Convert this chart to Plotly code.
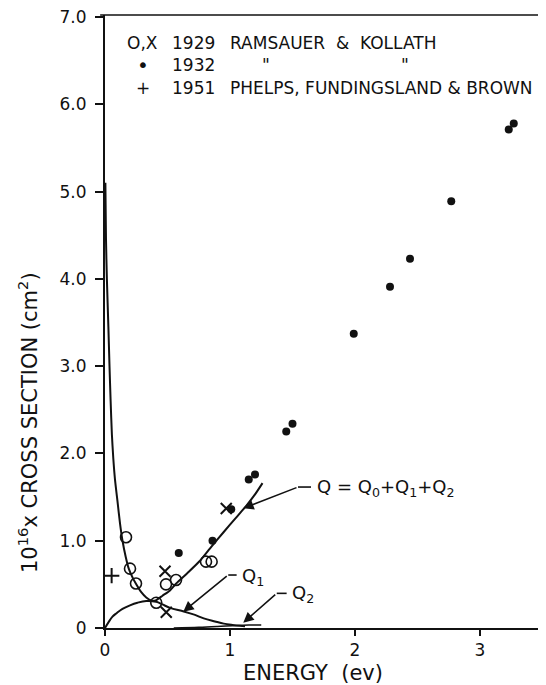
import plotly.graph_objects as go

# ---- data ----
circ_x = [0.168, 0.20, 0.248, 0.41, 0.488, 0.568, 0.808, 0.853]
circ_y = [1.04, 0.68, 0.51, 0.29, 0.50, 0.55, 0.76, 0.76]

xmark_x = [0.48, 0.49, 0.97]
xmark_y = [0.65, 0.18, 1.37]

dot_x = [0.59, 0.86, 1.01, 1.15, 1.20, 1.45, 1.50, 1.99, 2.28, 2.44, 2.77, 3.23, 3.27]
dot_y = [0.86, 1.00, 1.36, 1.70, 1.76, 2.25, 2.34, 3.37, 3.91, 4.23, 4.89, 5.71, 5.78]

plus_x = [0.053]
plus_y = [0.60]

q_x = [0.003, 0.008, 0.015, 0.027, 0.036, 0.045, 0.055, 0.066, 0.08, 0.10, 0.12, 0.14,
       0.165, 0.19, 0.22, 0.25, 0.29, 0.33, 0.37, 0.41, 0.46, 0.52, 0.57, 0.66, 0.76,
       0.85, 0.95, 1.04, 1.13, 1.20, 1.26]
q_y = [5.1, 4.45, 4.0, 3.45, 3.0, 2.6, 2.22, 1.95, 1.70, 1.45, 1.20, 1.00,
       0.82, 0.68, 0.58, 0.50, 0.41, 0.35, 0.315, 0.32, 0.37, 0.43, 0.51, 0.63, 0.77,
       0.93, 1.10, 1.25, 1.40, 1.53, 1.66]

q1_x = [0.0, 0.03, 0.06, 0.093, 0.14, 0.20, 0.26, 0.33, 0.41, 0.46, 0.52, 0.63, 0.72,
        0.79, 0.88, 0.95, 1.02, 1.08, 1.12]
q1_y = [0.0, 0.07, 0.13, 0.17, 0.22, 0.26, 0.29, 0.31, 0.30, 0.27, 0.23, 0.19, 0.15,
        0.11, 0.075, 0.05, 0.035, 0.025, 0.02]

q2_x = [0.55, 0.75, 0.90, 1.05, 1.15, 1.25]
q2_y = [0.0, 0.008, 0.018, 0.03, 0.035, 0.035]

x_ticks = [0, 1, 2, 3]
x_ticktext = ["0", "1", "2", "3"]
y_ticks = [0, 1, 2, 3, 4, 5, 6, 7]
y_ticktext = ["0", "1.0", "2.0", "3.0", "4.0", "5.0", "6.0", "7.0"]

FONT = "DejaVu Sans"
BLACK = "#111"

fig = go.Figure()
fig.add_trace(go.Scatter(x=q_x, y=q_y, mode="lines", line=dict(color=BLACK, width=2, shape="spline", smoothing=0.6), hoverinfo="skip"))
fig.add_trace(go.Scatter(x=q1_x, y=q1_y, mode="lines", line=dict(color=BLACK, width=2, shape="spline"), hoverinfo="skip"))
fig.add_trace(go.Scatter(x=q2_x, y=q2_y, mode="lines", line=dict(color=BLACK, width=1.5, shape="spline"), hoverinfo="skip"))
fig.add_trace(go.Scatter(x=circ_x, y=circ_y, mode="markers",
                         marker=dict(symbol="circle-open", size=11, color=BLACK, line=dict(width=1.6))))
fig.add_trace(go.Scatter(x=xmark_x, y=xmark_y, mode="markers",
                         marker=dict(symbol="x-thin-open", size=11, color=BLACK, line=dict(width=2))))
fig.add_trace(go.Scatter(x=dot_x, y=dot_y, mode="markers",
                         marker=dict(symbol="circle", size=8, color=BLACK)))
fig.add_trace(go.Scatter(x=plus_x, y=plus_y, mode="markers",
                         marker=dict(symbol="cross-thin-open", size=11, color=BLACK, line=dict(width=2))))

ann = []
def txt(x, y, s, size=17, xanchor="left", **kw):
    ann.append(dict(x=x, y=y, xref="x", yref="y", text=s, showarrow=False,
                    xanchor=xanchor, yanchor="middle", font=dict(family=FONT, size=size, color=BLACK), **kw))

# legend-like header text
txt(0.16, 6.70, "O,X")
txt(0.52, 6.70, "1929")
txt(0.984, 6.70, "RAMSAUER  &  KOLLATH")
txt(0.304, 6.45, "•", size=20, xanchor="center")
txt(0.52, 6.45, "1932")
txt(1.288, 6.45, "\"", xanchor="center")
txt(2.40, 6.45, "\"", xanchor="center")
txt(0.304, 6.185, "+", xanchor="center")
txt(0.52, 6.185, "1951")
txt(0.984, 6.185, "PHELPS, FUNDINGSLAND & BROWN")

# curve labels
txt(1.68, 1.60, "Q = Q<sub>0</sub>+Q<sub>1</sub>+Q<sub>2</sub>", size=18)
txt(1.08, 0.59, "Q<sub>1</sub>", size=18)
txt(1.48, 0.39, "Q<sub>2</sub>", size=18)

# arrows (tail -> head)
arrows = [((1.544, 1.615), (1.106, 1.371)),
          ((0.986, 0.607), (0.626, 0.187)),
          ((1.374, 0.397), (1.106, 0.061))]
for (tx, ty), (hx, hy) in arrows:
    ann.append(dict(x=hx, y=hy, ax=tx, ay=ty, xref="x", yref="y", axref="x", ayref="y",
                    text="", showarrow=True, arrowhead=2, arrowsize=1.3, arrowwidth=1.6,
                    arrowcolor=BLACK))

# axis titles
ann.append(dict(x=(313 - 105) / 441, y=-(673 - 628) / 613, xref="paper", yref="paper",
                text="ENERGY  (ev)", showarrow=False, xanchor="center", yanchor="middle",
                font=dict(family=FONT, size=21, color=BLACK)))
ann.append(dict(x=-(105 - 28) / 441, y=(628 - 423) / 613, xref="paper", yref="paper",
                text="10<sup>16</sup>x CROSS SECTION (cm<sup>2</sup>)", showarrow=False,
                textangle=-90, xanchor="center", yanchor="middle",
                font=dict(family=FONT, size=21, color=BLACK)))

shapes = [
    dict(type="line", xref="paper", yref="paper", x0=-0.011, x1=1.0, y0=1.0, y1=1.0,
         line=dict(color=BLACK, width=1.5)),
    dict(type="line", xref="x", yref="y", x0=1.544, x1=1.648, y0=1.615, y1=1.615,
         line=dict(color=BLACK, width=1.6)),
    dict(type="line", xref="x", yref="y", x0=0.986, x1=1.053, y0=0.607, y1=0.607,
         line=dict(color=BLACK, width=1.6)),
    dict(type="line", xref="x", yref="y", x0=1.374, x1=1.453, y0=0.397, y1=0.397,
         line=dict(color=BLACK, width=1.6)),
]

# the page body has an 8px default margin, so the figure is 8px smaller than the window
fig.update_layout(
    width=538, height=677,
    margin=dict(l=97, r=0, t=7, b=57, autoexpand=False),
    paper_bgcolor="white", plot_bgcolor="white",
    showlegend=False,
    annotations=ann, shapes=shapes,
    xaxis=dict(range=[0, 3.528], showgrid=False, zeroline=False, showline=True,
               linecolor=BLACK, linewidth=2, ticks="outside", ticklen=6, tickwidth=1.5,
               tickcolor=BLACK, tickvals=x_ticks, ticktext=x_ticktext,
               tickfont=dict(family=FONT, size=17, color=BLACK), ticklabelstandoff=0,
               ticklabeloverflow="allow"),
    yaxis=dict(range=[0, 7.023], showgrid=False, zeroline=False, showline=True,
               linecolor=BLACK, linewidth=2, ticks="outside", ticklen=8, tickwidth=1.5,
               tickcolor=BLACK, tickvals=y_ticks, ticktext=y_ticktext,
               tickfont=dict(family=FONT, size=17, color=BLACK), ticklabelstandoff=5,
               ticklabeloverflow="allow"),
)

fig.write_html("out.html")
